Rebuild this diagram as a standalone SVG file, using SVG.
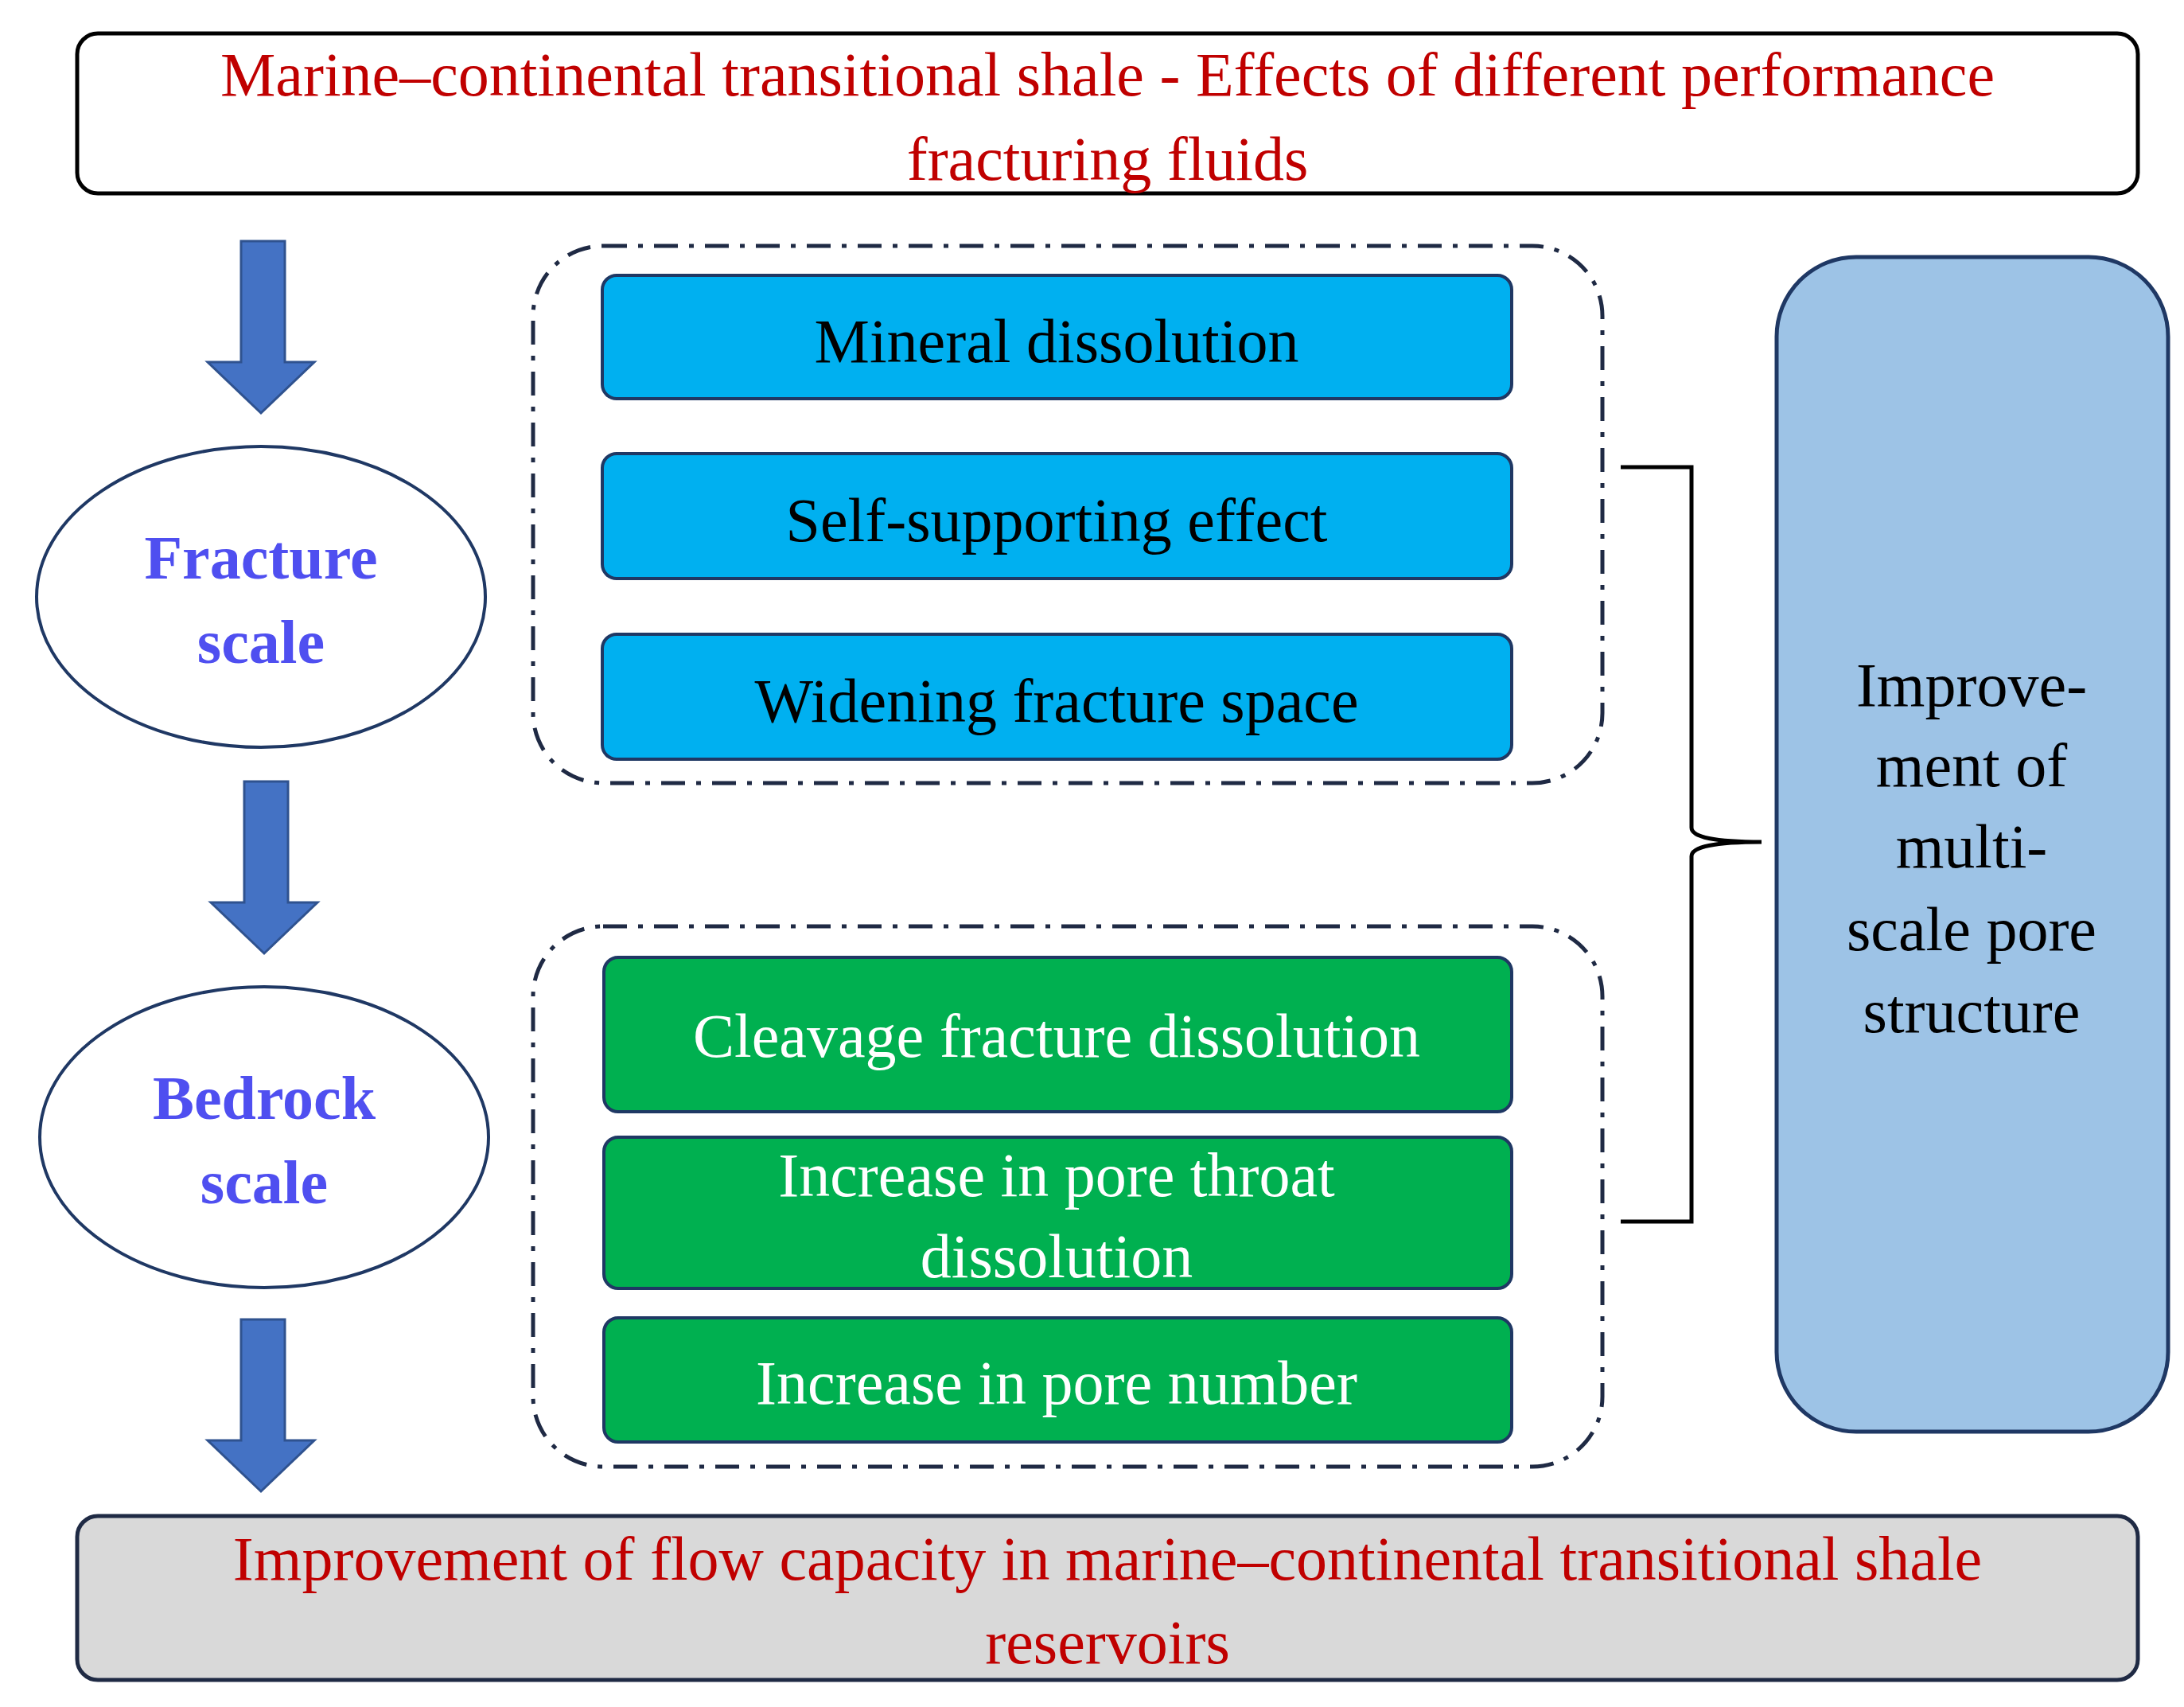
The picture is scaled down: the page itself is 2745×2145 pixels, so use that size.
<svg xmlns="http://www.w3.org/2000/svg" width="2745" height="2145" viewBox="0 0 2745 2145">
<style>
text{font-family:"Liberation Serif","Times New Roman",serif;text-anchor:middle;font-size:78px}
.red{fill:#C00000}
.blu{fill:#00B0F0;stroke:#1F3864;stroke-width:4}
.grn{fill:#00B050;stroke:#1F3864;stroke-width:4}
.dash{fill:none;stroke:#1F2A44;stroke-width:5;stroke-dasharray:30 14 6 14}
.arr{fill:#4472C4;stroke:#2F528F;stroke-width:3}
.ell{fill:#fff;stroke:#1F3864;stroke-width:4}
.sc{fill:#4F4FF0;font-weight:bold}
</style>
<rect width="2745" height="2145" fill="#fff"/>
<g id="top"><rect x="97" y="42" width="2590" height="201" rx="26" fill="#fff" stroke="#000" stroke-width="5"/>
<text class="red" x="1392" y="120">Marine–continental transitional shale - Effects of different performance</text>
<text class="red" x="1392" y="226">fracturing fluids</text></g>
<g id="connectors">
<path class="arr" d="M303 303H358V455H395L328 519L261 455H303Z"/>
<path class="arr" d="M307 982H362V1134H399L332 1198L265 1134H307Z"/>
<path class="arr" d="M303 1658H358V1810H395L328 1874L261 1810H303Z"/>
<path d="M2037 587H2126V1040Q2126 1058 2214 1058Q2126 1058 2126 1076V1535H2037" fill="none" stroke="#000" stroke-width="5"/>
</g>
<g id="fracture"><ellipse class="ell" cx="328" cy="750" rx="282" ry="189"/>
<text class="sc" x="328" y="727">Fracture</text><text class="sc" x="328" y="833">scale</text></g>
<g id="bedrock"><ellipse class="ell" cx="332" cy="1429" rx="282" ry="189"/>
<text class="sc" x="332" y="1406">Bedrock</text><text class="sc" x="332" y="1512">scale</text></g>
<g id="group1"><rect class="dash" x="670" y="309" width="1344" height="675" rx="88"/></g>
<g id="group2"><rect class="dash" x="670" y="1164" width="1344" height="679" rx="88"/></g>
<g id="b1"><rect class="blu" x="757" y="346" width="1143" height="155" rx="18"/><text x="1328" y="455">Mineral dissolution</text></g>
<g id="b2"><rect class="blu" x="757" y="570" width="1143" height="157" rx="18"/><text x="1328" y="680">Self-supporting effect</text></g>
<g id="b3"><rect class="blu" x="757" y="797" width="1143" height="157" rx="18"/><text x="1328" y="907">Widening fracture space</text></g>
<g id="g1"><rect class="grn" x="759" y="1203" width="1141" height="194" rx="18"/><text x="1328" y="1328" fill="#fff">Cleavage fracture dissolution</text></g>
<g id="g2"><rect class="grn" x="759" y="1429" width="1141" height="190" rx="18"/><text x="1328" y="1503" fill="#fff">Increase in pore throat</text><text x="1328" y="1605" fill="#fff">dissolution</text></g>
<g id="g3"><rect class="grn" x="759" y="1656" width="1141" height="156" rx="18"/><text x="1328" y="1764" fill="#fff">Increase in pore number</text></g>
<g id="right"><rect x="2233" y="323" width="492" height="1476" rx="100" fill="#9DC3E6" stroke="#1F3864" stroke-width="5"/>
<text x="2478" y="887">Improve-</text><text x="2478" y="988">ment of</text><text x="2478" y="1090">multi-</text><text x="2478" y="1194">scale pore</text><text x="2478" y="1297">structure</text></g>
<g id="bottom"><rect x="97" y="1905" width="2590" height="206" rx="26" fill="#D9D9D9" stroke="#1F2A44" stroke-width="5"/>
<text class="red" x="1392" y="1985">Improvement of flow capacity in marine–continental transitional shale</text>
<text class="red" x="1392" y="2090">reservoirs</text></g>
</svg>
